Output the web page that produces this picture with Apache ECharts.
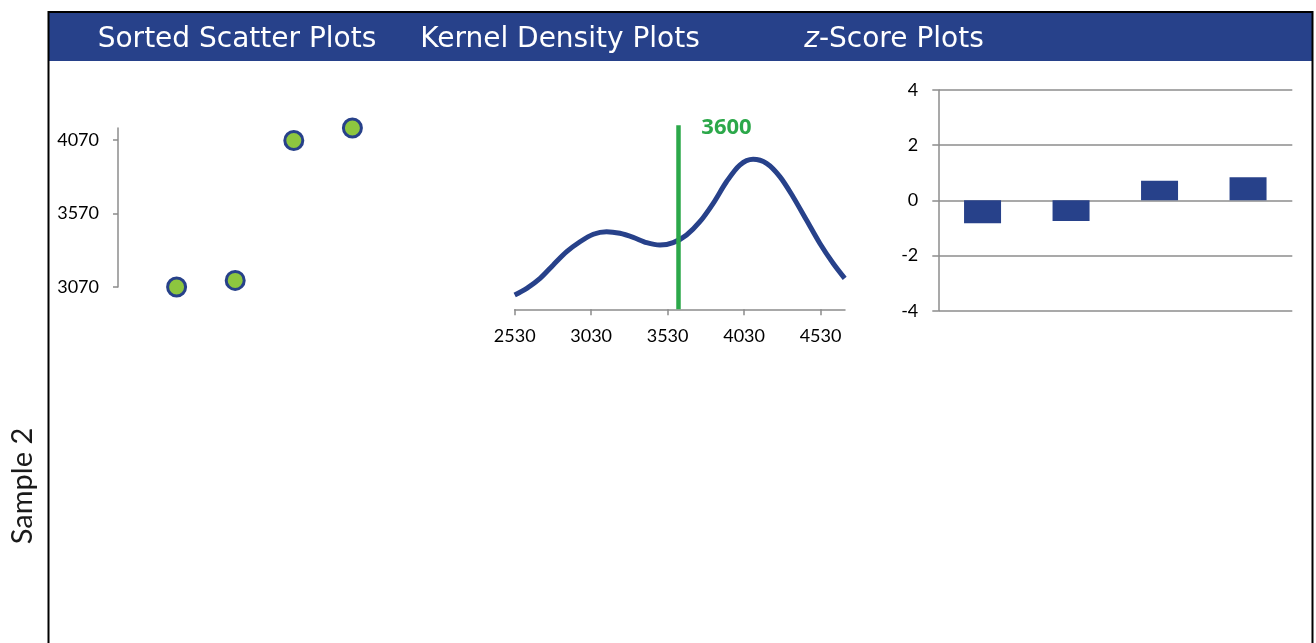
<!DOCTYPE html>
<html>
<head>
<meta charset="utf-8">
<script src="https://cdn.jsdelivr.net/npm/echarts@6/dist/echarts.min.js"></script>
<style>
  html, body { margin: 0; padding: 0; background: #fff; }
  #main { width: 1316px; height: 643px; }
</style>
</head>
<body>
<div id="main"></div>
<script>
// sorted sample values (scatter)
var sortedRank = [1, 2, 3, 4];
var sortedValues = [3070, 3115, 4065, 4150];
var scatterTicks = [3070, 3570, 4070];

// kernel density curve (relative height)
var kdeX = [2530, 2609, 2696, 2782, 2870, 2957, 3044, 3131, 3218, 3305, 3393, 3480, 3566,
  3654, 3741, 3828, 3915, 4002, 4089, 4177, 4264, 4350, 4438, 4525, 4612, 4688];
var kdeY = [0.078, 0.114, 0.168, 0.241, 0.313, 0.367, 0.408, 0.422, 0.413, 0.391, 0.362, 0.349, 0.362,
  0.404, 0.476, 0.576, 0.693, 0.784, 0.815, 0.793, 0.721, 0.612, 0.485, 0.359, 0.250, 0.168];
var kdeTicks = [2530, 3030, 3530, 4030, 4530];
var meanValue = 3600;

// z-scores
var zCats = ['1', '2', '3', '4'];
var zScores = [-0.83, -0.75, 0.71, 0.84];

var navy = '#27418A';
var green = '#2CA84A';
var axisGray = '#8C8C8C';
var labelFont = 'Lato';
var titleFont = '28px "DejaVu Sans", sans-serif';

function plain(v) { return String(v); }

var chart = echarts.init(document.getElementById('main'));

var option = {
  backgroundColor: '#fff',
  animation: false,
  graphic: [
    // header band + frame
    { type: 'rect', shape: { x: 49, y: 13, width: 1263, height: 48 }, style: { fill: navy } },
    { type: 'polyline', shape: { points: [[48.5, 660], [48.5, 12], [1312.5, 12], [1312.5, 660]] },
      style: { stroke: '#000', lineWidth: 2, fill: null } },
    { type: 'text', x: 237, y: 40, style: { text: 'Sorted Scatter Plots', fill: '#fff',
      font: titleFont, align: 'center', verticalAlign: 'middle' } },
    { type: 'text', x: 560, y: 40, style: { text: 'Kernel Density Plots', fill: '#fff',
      font: titleFont, align: 'center', verticalAlign: 'middle' } },
    { type: 'text', x: 894, y: 40, style: { text: '{i|z}-Score Plots', fill: '#fff',
      font: titleFont, align: 'center', verticalAlign: 'middle',
      rich: { i: { fontStyle: 'italic', fontSize: 28, fontFamily: 'DejaVu Sans', fill: '#fff' } } } },
    { type: 'text', x: 23, y: 486, rotation: Math.PI / 2, style: { text: 'Sample 2', fill: '#1a1a1a',
      font: '29px Lato', align: 'center', verticalAlign: 'middle' } }
  ],
  grid: [
    { left: 118, top: 128, width: 293, height: 159 },
    { left: 514.7, top: 125.3, width: 330.3, height: 184 },
    { left: 938.3, top: 90, width: 354, height: 220.7 }
  ],
  xAxis: [
    { gridIndex: 0, type: 'value', min: 0, max: 5, show: false },
    { gridIndex: 1, type: 'value', min: 2530, max: 4690,
      axisLine: { show: true, lineStyle: { color: axisGray, width: 1.5 } },
      axisTick: { show: true, length: 6, customValues: kdeTicks, lineStyle: { color: axisGray, width: 1.5 } },
      axisLabel: { customValues: kdeTicks, formatter: plain, margin: 18, color: '#000', fontSize: 18, fontFamily: labelFont },
      splitLine: { show: false } },
    { gridIndex: 2, type: 'category', data: zCats,
      axisLine: { show: false }, axisTick: { show: false }, axisLabel: { show: false } }
  ],
  yAxis: [
    { gridIndex: 0, type: 'value', min: 3070, max: 4150,
      axisLine: { show: true, lineStyle: { color: axisGray, width: 1.5 } },
      axisTick: { show: true, length: 5, customValues: scatterTicks, lineStyle: { color: axisGray, width: 1.5 } },
      axisLabel: { customValues: scatterTicks, formatter: plain, margin: 19, color: '#000', fontSize: 18, fontFamily: labelFont },
      splitLine: { show: false } },
    { gridIndex: 1, type: 'value', min: 0, max: 1, show: false },
    { gridIndex: 2, type: 'value', min: -4, max: 4, interval: 2,
      axisLine: { show: true, lineStyle: { color: axisGray, width: 1.5 } },
      axisTick: { show: true, length: 6, lineStyle: { color: axisGray, width: 1.5 } },
      axisLabel: { margin: 20, color: '#000', fontSize: 18, fontFamily: labelFont },
      splitLine: { show: true, lineStyle: { color: axisGray, width: 1.5 } } }
  ],
  series: [
    {
      type: 'scatter', xAxisIndex: 0, yAxisIndex: 0,
      data: sortedRank.map(function (r, i) { return [r, sortedValues[i]]; }),
      symbolSize: 18,
      itemStyle: { color: '#8DC63F', borderColor: navy, borderWidth: 3, opacity: 1 }
    },
    {
      type: 'line', xAxisIndex: 1, yAxisIndex: 1, smooth: 0.3, showSymbol: false,
      data: kdeX.map(function (x, i) { return [x, kdeY[i]]; }),
      lineStyle: { color: navy, width: 5 },
      markLine: {
        silent: true, symbol: 'none', animation: false,
        label: { show: false },
        lineStyle: { color: green, width: 4.5, type: 'solid', opacity: 1 },
        emphasis: { disabled: true },
        data: [{ xAxis: meanValue }]
      }
    },
    {
      type: 'scatter', xAxisIndex: 1, yAxisIndex: 1, symbolSize: 0, silent: true,
      data: [[meanValue, 1]],
      itemStyle: { opacity: 1 },
      label: {
        show: true, position: 'right', distance: 23, offset: [0, 2],
        formatter: function (p) { return String(p.value[0]); },
        color: green, opacity: 1, fontSize: 22, fontWeight: 'bold', fontFamily: 'Open Sans'
      }
    },
    {
      type: 'bar', xAxisIndex: 2, yAxisIndex: 2,
      data: zScores, barWidth: 37,
      itemStyle: { color: navy }
    }
  ]
};

chart.setOption(option);
</script>
</body>
</html>
